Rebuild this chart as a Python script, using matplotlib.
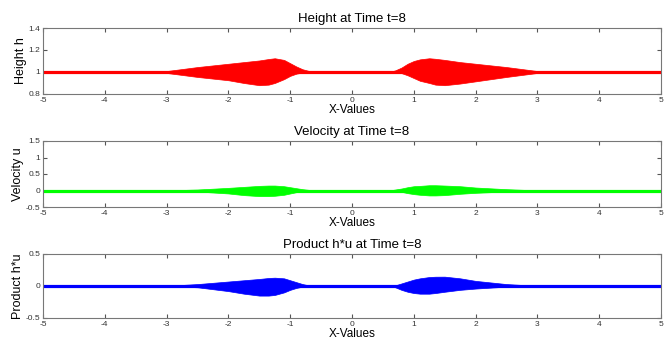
import matplotlib
matplotlib.use("Agg")
import matplotlib.pyplot as plt

plt.rcParams['font.family'] = ['Liberation Sans', 'DejaVu Sans']

# envelope of the oscillating solution at t=8
env_x = [-3.05, -2.5, -2.0, -1.75, -1.5, -1.35, -1.25, -1.1, -1.0, -0.9, -0.8, -0.7, -0.6,
         0.6, 0.7, 0.8, 0.9, 1.0, 1.1, 1.25, 1.35, 1.5, 1.75, 2.0, 2.5, 3.05]

h_upper = [1.005, 1.045, 1.075, 1.09, 1.105, 1.118, 1.125, 1.11, 1.08, 1.05, 1.025, 1.01, 1.0,
           1.0, 1.015, 1.04, 1.075, 1.1, 1.115, 1.125, 1.12, 1.11, 1.09, 1.075, 1.045, 1.005]
h_lower = [0.995, 0.955, 0.925, 0.9, 0.88, 0.885, 0.9, 0.935, 0.965, 0.985, 0.995, 1.0, 1.0,
           1.0, 1.0, 0.99, 0.97, 0.945, 0.92, 0.9, 0.885, 0.88, 0.895, 0.915, 0.955, 0.995]

u_upper = [0.0, 0.03, 0.08, 0.11, 0.14, 0.15, 0.15, 0.13, 0.1, 0.07, 0.04, 0.02, 0.0,
           0.0, 0.03, 0.06, 0.1, 0.13, 0.14, 0.16, 0.16, 0.15, 0.13, 0.09, 0.04, 0.0]
u_lower = [0.0, -0.03, -0.09, -0.14, -0.17, -0.17, -0.16, -0.13, -0.09, -0.05, -0.03, -0.01, 0.0,
           0.0, -0.02, -0.04, -0.08, -0.11, -0.13, -0.15, -0.15, -0.14, -0.1, -0.07, -0.03, 0.0]

hu_upper = [0.0, 0.03, 0.07, 0.09, 0.11, 0.125, 0.13, 0.12, 0.09, 0.06, 0.03, 0.01, 0.0,
            0.0, 0.01, 0.04, 0.07, 0.1, 0.12, 0.14, 0.145, 0.146, 0.12, 0.08, 0.03, 0.0]
hu_lower = [0.0, -0.02, -0.08, -0.12, -0.15, -0.15, -0.14, -0.1, -0.06, -0.03, -0.01, 0.0, 0.0,
            0.0, -0.02, -0.06, -0.09, -0.11, -0.12, -0.12, -0.11, -0.09, -0.06, -0.04, -0.01, 0.0]

panels = [
    ("Height at Time t=8", "Height h", 1.0, h_upper, h_lower, "#ff0000", (0.8, 1.4), [0.8, 1.0, 1.2, 1.4], ["0.8", "1", "1.2", "1.4"]),
    ("Velocity at Time t=8", "Velocity u", 0.0, u_upper, u_lower, "#00ff00", (-0.5, 1.5), [-0.5, 0, 0.5, 1, 1.5], ["-0.5", "0", "0.5", "1", "1.5"]),
    ("Product h*u at Time t=8", "Product h*u", 0.0, hu_upper, hu_lower, "#0000ff", (-0.5, 0.5), [-0.5, 0, 0.5], ["-0.5", "0", "0.5"]),
]

# axes boxes in figure fractions (left, bottom, width, height)
boxes = [
    (43 / 671, 1 - 94 / 342, 618 / 671, 66 / 342),
    (43 / 671, 1 - 207 / 342, 618 / 671, 66 / 342),
    (43 / 671, 1 - 318 / 342, 618 / 671, 64 / 342),
]

fig = plt.figure(figsize=(6.71, 3.42), dpi=100)
for (title, ylabel, base, upper, lower, color, ylim, yticks, ylabs), box in zip(panels, boxes):
    ax = fig.add_axes(box)
    ax.plot([-5, 5], [base, base], color=color, lw=2.3, solid_capstyle='butt')
    ax.fill_between(env_x, lower, upper, color=color, lw=0.5)
    ax.set_xlim(-5, 5)
    ax.set_ylim(*ylim)
    ax.set_xticks(range(-5, 6))
    ax.set_xticklabels([str(v) for v in range(-5, 6)])
    ax.set_yticks(yticks)
    ax.set_yticklabels(ylabs)
    ax.tick_params(direction='in', top=True, right=True, length=3, width=0.8,
                   labelsize=6, colors='#555555', labelcolor='#333333', pad=2)
    for s in ax.spines.values():
        s.set_color('#777777')
        s.set_linewidth(0.8)
    ax.set_title(title, fontsize=9.5, pad=4)
    ax.set_xlabel("X-Values", fontsize=8.5, labelpad=0)
    ax.set_ylabel(ylabel, fontsize=9, labelpad=1)

fig.savefig("out.png", dpi=100)
